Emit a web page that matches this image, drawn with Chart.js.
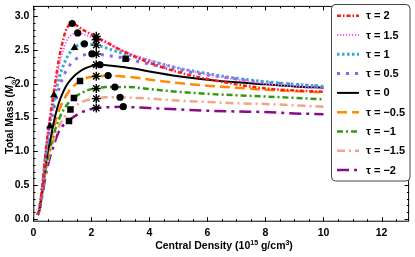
<!DOCTYPE html>
<html><head><meta charset="utf-8">
<script src="https://cdn.jsdelivr.net/npm/chart.js@4.4.1/dist/chart.umd.min.js"></script>
<style>html,body{margin:0;padding:0;background:#fff;}#wrap{width:415px;height:257px;}</style>
</head><body><div id="wrap"><canvas id="c" width="415" height="257"></canvas></div>
<script>
// ---- data ----
const tauLabels = ['τ = 2','τ = 1.5','τ = 1','τ = 0.5','τ = 0','τ = −0.5','τ = −1','τ = −1.5','τ = −2'];
const xTicks = [0,2,4,6,8,10,12];
const yTicks = [0,0.5,1,1.5,2,2.5,3];

const rho_t2   = [0.15,0.2,0.25,0.3,0.35,0.4,0.45,0.5,0.55,0.6,0.7,0.8,0.9,1.0,1.1,1.2,1.34,1.5,1.7,2.0,2.17,2.5,3.0,3.5,4,5,6,7,8,9,10];
const mass_t2  = [0.06,0.13,0.27,0.45,0.65,0.88,1.1,1.28,1.42,1.58,1.86,2.15,2.4,2.6,2.76,2.85,2.89,2.86,2.8,2.73,2.69,2.62,2.5,2.4,2.31,2.17,2.07,1.99,1.93,1.9,1.88];
const rho_t15  = [0.15,0.2,0.25,0.3,0.35,0.4,0.45,0.5,0.6,0.7,0.8,0.9,1.0,1.1,1.2,1.35,1.53,1.8,2.17,2.5,3,3.5,4,5,6,7,8,9,10];
const mass_t15 = [0.06,0.13,0.27,0.45,0.64,0.86,1.06,1.24,1.52,1.78,2.04,2.27,2.45,2.58,2.67,2.73,2.75,2.72,2.66,2.6,2.5,2.42,2.35,2.23,2.14,2.06,2.0,1.96,1.93];
const rho_t1   = [0.15,0.2,0.25,0.3,0.35,0.4,0.45,0.5,0.6,0.7,0.8,0.9,1.0,1.2,1.42,1.6,1.76,2.0,2.17,2.5,3,3.5,4,5,6,7,8,9,10];
const mass_t1  = [0.06,0.13,0.26,0.44,0.63,0.84,1.03,1.2,1.48,1.72,1.93,2.1,2.23,2.42,2.53,2.58,2.59,2.58,2.57,2.53,2.46,2.4,2.34,2.23,2.15,2.08,2.03,1.99,1.96];
const rho_t05  = [0.15,0.2,0.25,0.3,0.35,0.4,0.45,0.5,0.6,0.7,0.8,0.9,1.0,1.2,1.4,1.6,1.8,2.02,2.17,2.5,3,3.18,3.5,4,5,6,7,8,9,10];
const mass_t05 = [0.06,0.12,0.25,0.42,0.61,0.8,0.98,1.13,1.4,1.62,1.8,1.95,2.07,2.24,2.34,2.4,2.43,2.44,2.44,2.42,2.39,2.37,2.34,2.29,2.2,2.13,2.07,2.02,1.99,1.96];
const rho_t0   = [0.15,0.2,0.25,0.3,0.35,0.4,0.45,0.5,0.6,0.7,0.8,0.9,1.0,1.1,1.2,1.4,1.6,1.8,2.0,2.3,2.6,3,3.5,4,5,6,7,8,9,10];
const mass_t0  = [0.06,0.12,0.24,0.4,0.57,0.73,0.88,1.0,1.2,1.42,1.6,1.74,1.85,1.94,2.01,2.11,2.18,2.23,2.26,2.28,2.27,2.25,2.22,2.18,2.11,2.06,2.02,1.99,1.96,1.94];
const rho_tm05  = [0.15,0.2,0.25,0.3,0.35,0.4,0.5,0.6,0.7,0.8,0.9,1.0,1.2,1.4,1.61,1.8,2.0,2.17,2.58,3,3.5,4,5,6,7,8,9,10];
const mass_tm05 = [0.06,0.12,0.23,0.38,0.55,0.7,0.95,1.15,1.33,1.49,1.62,1.72,1.87,1.97,2.04,2.08,2.1,2.11,2.12,2.11,2.09,2.06,2.01,1.97,1.94,1.91,1.89,1.87];
const rho_tm1   = [0.15,0.2,0.25,0.3,0.35,0.4,0.5,0.6,0.7,0.8,0.9,1.0,1.2,1.4,1.6,1.8,2.0,2.17,2.5,2.81,3.3,4,5,6,7,8,9,10];
const mass_tm1  = [0.06,0.12,0.22,0.36,0.52,0.67,0.9,1.08,1.24,1.38,1.49,1.58,1.71,1.79,1.85,1.89,1.92,1.93,1.95,1.95,1.95,1.92,1.88,1.85,1.83,1.81,1.79,1.77];
const rho_tm15  = [0.15,0.2,0.25,0.3,0.35,0.4,0.5,0.6,0.7,0.8,0.9,1.0,1.28,1.5,1.8,2.17,2.5,2.99,3.5,4,5,6,7,8,9,10];
const mass_tm15 = [0.06,0.11,0.21,0.34,0.49,0.63,0.85,1.02,1.16,1.28,1.38,1.46,1.62,1.69,1.75,1.78,1.8,1.8,1.79,1.78,1.75,1.73,1.71,1.7,1.68,1.66];
const rho_tm2   = [0.15,0.2,0.25,0.3,0.35,0.4,0.5,0.6,0.7,0.8,0.9,1.0,1.23,1.5,1.8,2.17,2.5,3.1,3.5,4,5,6,7,8,9,10];
const mass_tm2  = [0.06,0.11,0.2,0.32,0.45,0.58,0.79,0.95,1.08,1.21,1.31,1.37,1.46,1.54,1.6,1.64,1.65,1.66,1.65,1.64,1.62,1.6,1.59,1.58,1.56,1.55];

const circleRho  = [1.34,1.53,1.76,2.02,2.30,2.58,2.81,2.99,3.10];
const circleMass = [2.89,2.75,2.59,2.44,2.28,2.12,1.95,1.80,1.66];
const starRho    = [2.17,2.17,2.17,2.17,2.17,2.17,2.17,2.17,2.17];
const starMass   = [2.70,2.65,2.57,2.44,2.28,2.11,1.93,1.78,1.64];
const squareRho  = [1.61,1.40,1.28,1.23,3.18];
const squareMass = [2.04,1.79,1.62,1.45,2.37];
const triRho     = [0.57,0.71,1.42];
const triMass    = [1.37,1.83,2.53];

const seriesRho  = [rho_t2,rho_t15,rho_t1,rho_t05,rho_t0,rho_tm05,rho_tm1,rho_tm15,rho_tm2];
const seriesMass = [mass_t2,mass_t15,mass_t1,mass_t05,mass_t0,mass_tm05,mass_tm1,mass_tm15,mass_tm2];
const colors = ['#ff1a1a','#ff55ff','#33aacc','#8a63f0','#000000','#ff8a00','#2f9a10','#f0a488','#8a0a8a'];
const dashes = [[4,2,1.5,2],[1.2,1.8],[2.5,2.5],[3,6],[],[10,5],[6,3,2,3],[8,4,2,4],[12,5,3,5]];
const widths = [2.5,2,3,3,2,2.5,2.5,2.5,2.5];

const zip = (a,b)=>a.map((v,i)=>({x:v,y:b[i]}));
const datasets = seriesRho.map((r,i)=>({
  label: tauLabels[i], data: zip(r, seriesMass[i]), borderColor: colors[i], borderWidth: widths[i],
  borderDash: dashes[i], borderCapStyle:'butt', pointRadius:0, showLine:true, fill:false,
  cubicInterpolationMode:'monotone', order: 10+i
}));
datasets.push({label:'circ', data: zip(circleRho,circleMass), showLine:false, pointStyle:'circle', pointRadius:3.6, backgroundColor:'#000', borderColor:'#000', borderWidth:0, order:1});
datasets.push({label:'star', data: zip(starRho,starMass), showLine:false, pointStyle:'star', pointRadius:4.5, backgroundColor:'#000', borderColor:'#000', borderWidth:1.4, order:1});
datasets.push({label:'sq', data: zip(squareRho,squareMass), showLine:false, pointStyle:'rect', pointRadius:4.6, backgroundColor:'#000', borderColor:'#000', borderWidth:0, order:1});
datasets.push({label:'tri', data: zip(triRho,triMass), showLine:false, pointStyle:'triangle', pointRadius:4.5, backgroundColor:'#000', borderColor:'#000', borderWidth:0, order:1});

const FONT = '"Liberation Sans", Arial, sans-serif';

const framePlugin = {
  id:'frame',
  afterDraw(chart){
    const ctx = chart.ctx, a = chart.chartArea, xs = chart.scales.x, ys = chart.scales.y;
    ctx.save();
    ctx.strokeStyle='#000'; ctx.lineWidth=1;
    ctx.strokeRect(a.left+0.5, a.top+0.5, a.right-a.left-1, a.bottom-a.top-1);
    ctx.beginPath();
    for(let v=0; v<=12.9; v+=0.5){
      const p = Math.round(xs.getPixelForValue(v))+0.5;
      const L = (Math.abs(v%2)<1e-6)?4.5:2.5;
      ctx.moveTo(p,a.bottom); ctx.lineTo(p,a.bottom-L);
      ctx.moveTo(p,a.top); ctx.lineTo(p,a.top+L);
    }
    for(let k=0; k<=31; k++){
      const v=k/10; const p = Math.round(ys.getPixelForValue(v))+0.5;
      const L = (k%5===0)?4.5:2.2;
      ctx.moveTo(a.left,p); ctx.lineTo(a.left+L,p);
      ctx.moveTo(a.right,p); ctx.lineTo(a.right-L,p);
    }
    ctx.stroke();

    // axis titles
    ctx.fillStyle='#000';
    const parts = [['Central Density (10',10.5,0],['15',7,-4],[' g/cm',10.5,0],['3',7,-4],[')',10.5,0]];
    let tw=0; parts.forEach(p=>{ctx.font=`bold ${p[1]}px ${FONT}`; tw+=ctx.measureText(p[0]).width;});
    let x0 = 224 - tw/2; const yb = 249;
    ctx.textBaseline='alphabetic'; ctx.textAlign='left';
    parts.forEach(p=>{ctx.font=`bold ${p[1]}px ${FONT}`; ctx.fillText(p[0], x0, yb+p[2]); x0+=ctx.measureText(p[0]).width;});
    ctx.save(); ctx.translate(13, 115); ctx.rotate(-Math.PI/2);
    const yp = [['Total Mass (',`bold 10.5px ${FONT}`,0],['M',`italic bold 10.5px ${FONT}`,0],['⊙',`bold 7px "DejaVu Sans", sans-serif`,2.5],[')',`bold 10.5px ${FONT}`,0]];
    tw=0; yp.forEach(p=>{ctx.font=p[1]; tw+=ctx.measureText(p[0]).width;});
    x0=-tw/2;
    yp.forEach(p=>{ctx.font=p[1]; ctx.fillText(p[0], x0, p[2]); x0+=ctx.measureText(p[0]).width;});
    ctx.restore();

    // legend
    const lx=331, ly=4, lw=79, lh=177, r=4;
    ctx.beginPath();
    ctx.moveTo(lx+r,ly+0.5); ctx.arcTo(lx+lw,ly+0.5,lx+lw,ly+lh,r); ctx.arcTo(lx+lw,ly+lh,lx,ly+lh,r);
    ctx.arcTo(lx+0.5,ly+lh,lx+0.5,ly,r); ctx.arcTo(lx+0.5,ly+0.5,lx+lw,ly+0.5,r); ctx.closePath();
    ctx.fillStyle='#fff'; ctx.fill(); ctx.strokeStyle='#444'; ctx.lineWidth=1; ctx.stroke();
    for(let i=0;i<9;i++){
      const yy = 15.7 + i*19.3;
      ctx.save();
      ctx.strokeStyle=colors[i]; ctx.lineWidth=widths[i]; ctx.setLineDash(dashes[i]); ctx.lineCap='butt';
      ctx.beginPath(); ctx.moveTo(337,yy); ctx.lineTo(359,yy); ctx.stroke();
      ctx.restore();
      ctx.fillStyle='#000'; ctx.font=`bold 11px ${FONT}`; ctx.textBaseline='middle'; ctx.textAlign='left';
      ctx.fillText(tauLabels[i], 366, yy+0.5);
    }
    ctx.restore();
  }
};

new Chart(document.getElementById('c'), {
  type:'scatter',
  data:{datasets},
  options:{
    responsive:false, animation:false, devicePixelRatio:1,
    layout:{padding:{left:0,right:1.7,top:1.5,bottom:0}},
    plugins:{legend:{display:false}, tooltip:{enabled:false}},
    scales:{
      x:{type:'linear', min:0, max:12.95,
        grid:{display:false, drawTicks:false}, border:{display:false},
        afterBuildTicks:s=>{s.ticks = xTicks.map(v=>({value:v}));},
        afterFit:s=>{s.height=35.3; s.paddingLeft=0; s.paddingRight=0;},
        ticks:{padding:5, color:'#000', font:{family:FONT, size:10.5, weight:'bold'}, maxRotation:0, callback:v=>String(v)}},
      y:{type:'linear', min:-0.04, max:3.15,
        grid:{display:false, drawTicks:false}, border:{display:false},
        afterBuildTicks:s=>{s.ticks = yTicks.map(v=>({value:v}));},
        afterFit:s=>{s.width=33.3; s.paddingTop=0; s.paddingBottom=0;},
        ticks:{padding:4, color:'#000', font:{family:FONT, size:10.5, weight:'bold'}, callback:v=>v.toFixed(1)}}
    }
  },
  plugins:[framePlugin]
});
</script></body></html>
